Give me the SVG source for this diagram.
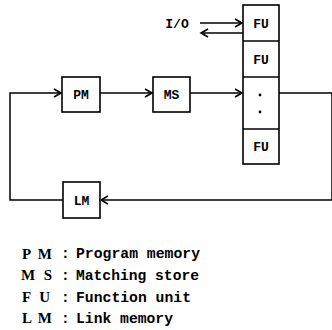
<svg xmlns="http://www.w3.org/2000/svg" width="332" height="330" viewBox="0 0 332 330">
<style>
.box{fill:#fff;stroke:#000;stroke-width:1.6}
.ln{fill:none;stroke:#000;stroke-width:1.5}
.lbl{font-family:"Liberation Mono",monospace;font-weight:bold;font-size:13px;text-anchor:middle;fill:#000}
.key{font-family:"Liberation Serif",serif;font-weight:bold;font-size:15px;fill:#000}
.desc{font-family:"Liberation Mono",monospace;font-weight:bold;font-size:14.5px;fill:#000}
</style>
<defs>
<marker id="ah" markerWidth="10" markerHeight="10" refX="8" refY="5" orient="auto" markerUnits="userSpaceOnUse">
<path d="M1,1 L8,5 L1,9" fill="none" stroke="#000" stroke-width="1.6"/>
</marker>
</defs>
<rect width="332" height="330" fill="#fff"/>
<g id="connectors">
<line class="ln" x1="200" y1="23" x2="242" y2="23" marker-end="url(#ah)"/>
<line class="ln" x1="243" y1="33" x2="201" y2="33" marker-end="url(#ah)"/>
<line class="ln" x1="100" y1="93" x2="152" y2="93" marker-end="url(#ah)"/>
<line class="ln" x1="190" y1="93" x2="242" y2="93" marker-end="url(#ah)"/>
<polyline class="ln" points="279,93 332,93 332,200 101,200" marker-end="url(#ah)"/>
<polyline class="ln" points="63,200 10,200 10,93 61,93" marker-end="url(#ah)"/>
</g>
<g id="io"><text class="lbl" x="177" y="28">I/O</text></g>
<g id="fu-column">
<rect class="box" x="243" y="5" width="36" height="159"/>
<line class="ln" x1="243" y1="41" x2="279" y2="41"/>
<line class="ln" x1="243" y1="77" x2="279" y2="77"/>
<line class="ln" x1="243" y1="129" x2="279" y2="129"/>
</g>
<g id="fu1"><text class="lbl" x="261" y="28">FU</text></g>
<g id="fu2"><text class="lbl" x="261" y="64">FU</text></g>
<g id="fu-dots"><circle cx="260" cy="95" r="1.4"/><circle cx="260" cy="112" r="1.4"/></g>
<g id="fu3"><text class="lbl" x="261" y="151">FU</text></g>
<g id="pm"><rect class="box" x="62" y="77" width="38" height="35"/><text class="lbl" x="81" y="99">PM</text></g>
<g id="ms"><rect class="box" x="153" y="77" width="37" height="35"/><text class="lbl" x="171.5" y="99">MS</text></g>
<g id="lm"><rect class="box" x="63" y="182" width="37" height="36"/><text class="lbl" x="81.5" y="205">LM</text></g>
<g id="legend">
<text class="key" x="22" y="259" textLength="30" lengthAdjust="spacing">P M</text><text class="desc" x="61" y="258">:</text><text class="desc" x="76" y="258" textLength="124" lengthAdjust="spacingAndGlyphs">Program memory</text>
<text class="key" x="21" y="280" textLength="31" lengthAdjust="spacing">M S</text><text class="desc" x="61" y="280">:</text><text class="desc" x="76" y="280" textLength="123" lengthAdjust="spacingAndGlyphs">Matching store</text>
<text class="key" x="22" y="302" textLength="28" lengthAdjust="spacing">F U</text><text class="desc" x="61" y="302">:</text><text class="desc" x="76" y="302" textLength="115" lengthAdjust="spacingAndGlyphs">Function unit</text>
<text class="key" x="22" y="323" textLength="30" lengthAdjust="spacing">L M</text><text class="desc" x="61" y="323">:</text><text class="desc" x="76" y="323" textLength="97" lengthAdjust="spacingAndGlyphs">Link memory</text>
</g>
</svg>
